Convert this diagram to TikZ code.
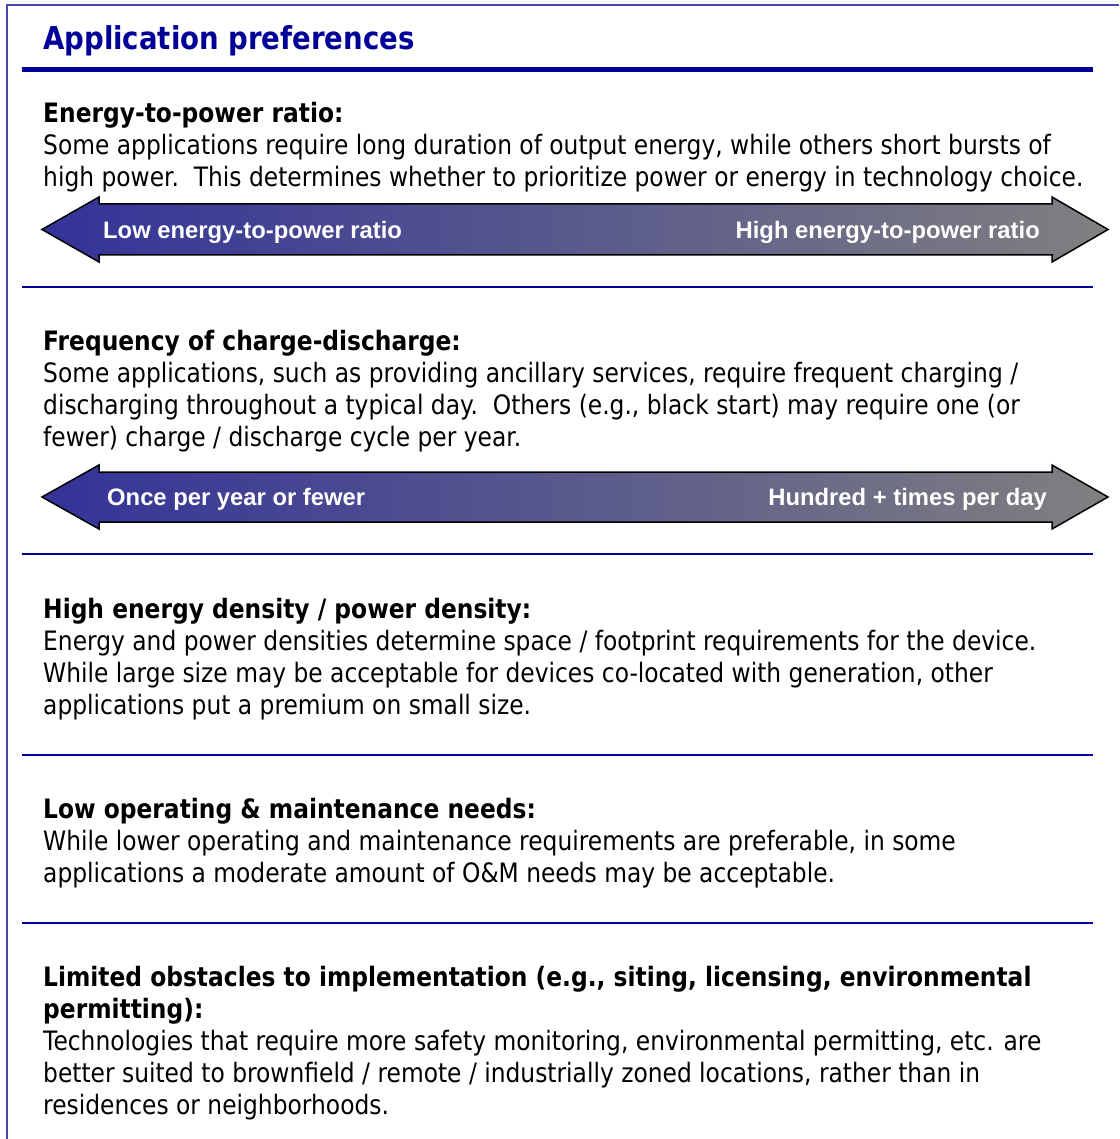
\documentclass[tikz,border=0pt]{standalone}
\usepackage{fontspec}
\setmainfont{DejaVu Sans}[FakeStretch=0.875]
\newfontfamily\barfont{Liberation Sans}
\usetikzlibrary{positioning}
\definecolor{navy}{RGB}{0,0,153}
\definecolor{framecol}{RGB}{72,72,168}
\definecolor{barblue}{RGB}{51,51,153}
\definecolor{bargray}{RGB}{128,128,128}

\begin{document}
\begin{tikzpicture}[x=1pt,y=-1pt,
  txt/.style={anchor=north west,inner sep=0pt,align=left,font=\fontsize{26.7}{32}\selectfont},
  sepline/.style={navy,line width=2.5pt},
  scalebar/.style={draw=black,line width=1.5pt,left color=barblue,right color=bargray},
  barlabel/.style={text=white,inner sep=0pt,font=\barfont\bfseries\fontsize{23.8}{28}\selectfont}]
\useasboundingbox (0,0) rectangle (1119,1139);
\draw[framecol,line width=2pt] (7,1139) -- (7,5) -- (1119,5);

% title
\node[anchor=base west,inner sep=0pt,text=navy,font=\bfseries\fontsize{31.5}{38}\selectfont] (title) at (43,50) {Application preferences};
\draw[navy,line width=5pt] (22,69.5) -- (1093,69.5);

% energy-to-power ratio
\node[txt] (ratio) at (43,98) {\rule{0pt}{24pt}\textbf{Energy-to-power ratio:}\\
Some applications require long duration of output energy, while others short bursts of\\
high power.\ \ This determines whether to prioritize power or energy in technology choice.};
\shade[scalebar] (42,229.5) -- (99,197) -- (99,204) -- (1052,204) -- (1052,197) -- (1108,229.5)
  -- (1052,262) -- (1052,255) -- (99,255) -- (99,262) -- cycle;
\node[barlabel,anchor=base west] (ratiolow) at (103,239) {Low energy-to-power ratio};
\node[barlabel,anchor=base east] (ratiohigh) at (1040,239) {High energy-to-power ratio};
\draw[sepline] (22,287) -- (1093,287);

% frequency
\node[txt] (freq) at (43,326) {\rule{0pt}{24pt}\textbf{Frequency of charge-discharge:}\\
Some applications, such as providing ancillary services, require frequent charging /\\
discharging throughout a typical day.\ \ Others (e.g., black start) may require one (or\\
fewer) charge / discharge cycle per year.};
\shade[scalebar] (42,497) -- (99,465) -- (99,472) -- (1052,472) -- (1052,465) -- (1108,497)
  -- (1052,529) -- (1052,522) -- (99,522) -- (99,529) -- cycle;
\node[barlabel,anchor=base west] (freqlow) at (107,505) {Once per year or fewer};
\node[barlabel,anchor=base east] (freqhigh) at (1047,505) {Hundred + times per day};
\draw[sepline] (22,554) -- (1093,554);

% density
\node[txt] (dens) at (43,594) {\rule{0pt}{24pt}\textbf{High energy density / power density:}\\
Energy and power densities determine space / footprint requirements for the device.\\
While large size may be acceptable for devices co-located with generation, other\\
applications put a premium on small size.};
\draw[sepline] (22,755) -- (1093,755);

% o&m
\node[txt] (om) at (43,794) {\rule{0pt}{24pt}\textbf{Low operating \& maintenance needs:}\\
While lower operating and maintenance requirements are preferable, in some\\
applications a moderate amount of O\&M needs may be acceptable.};
\draw[sepline] (22,923) -- (1093,923);

% obstacles
\node[txt] (obst) at (43,962) {\rule{0pt}{24pt}\textbf{Limited obstacles to implementation (e.g., siting, licensing, environmental}\\
\textbf{permitting):}\\
Technologies that require more safety monitoring, environmental permitting, etc. are\\
better suited to brownfield / remote / industrially zoned locations, rather than in\\
residences or neighborhoods.};
\end{tikzpicture}
\end{document}
